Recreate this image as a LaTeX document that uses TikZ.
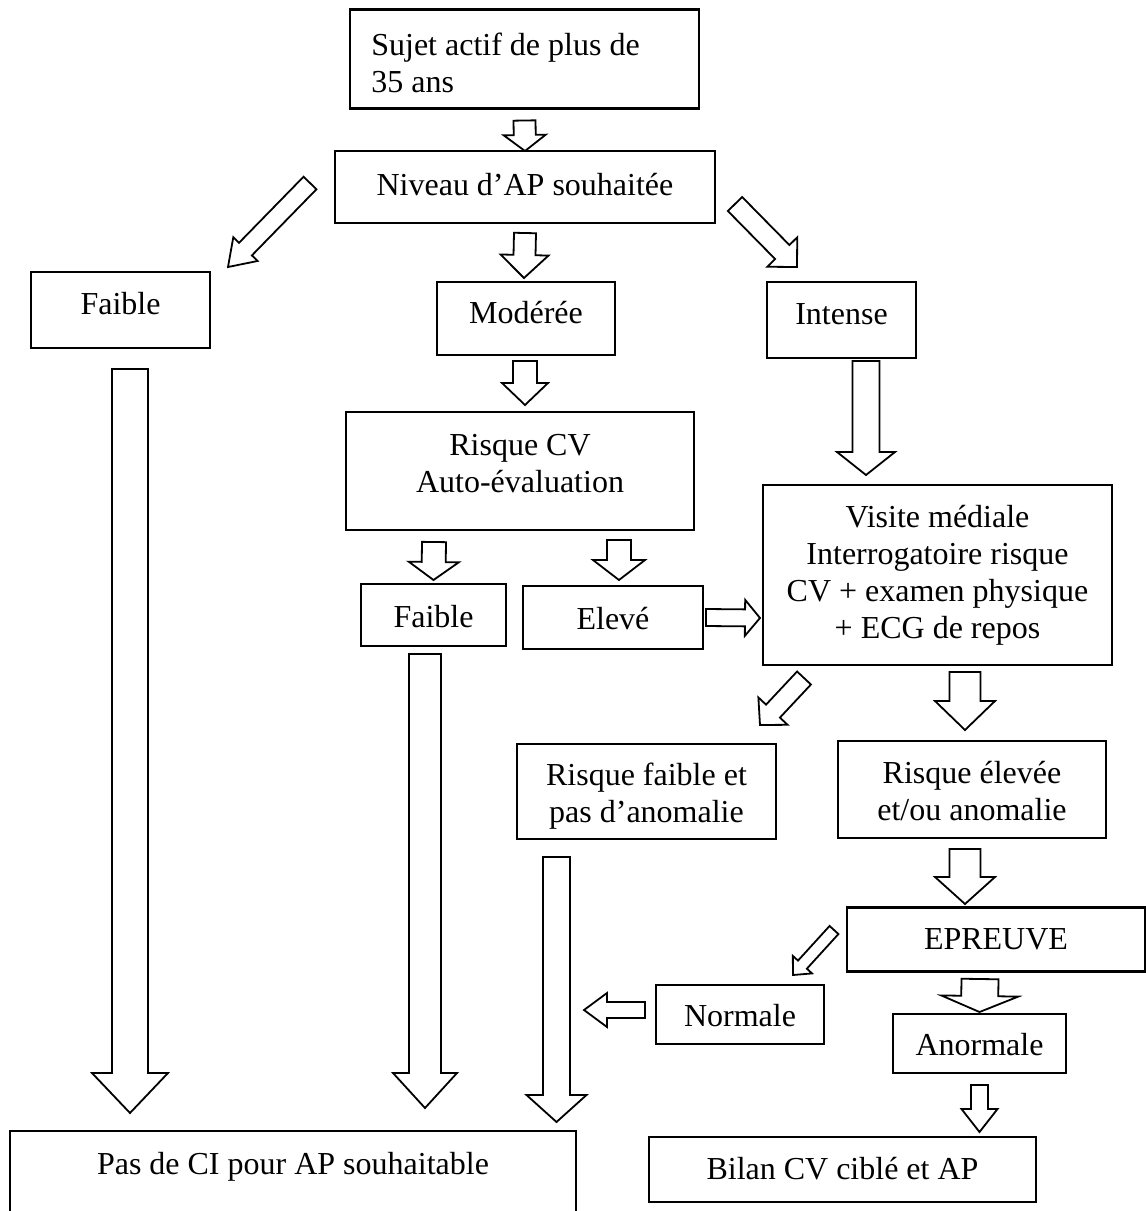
\documentclass[tikz,border=0pt]{standalone}
\usepackage{fontspec}
\setmainfont{Liberation Serif}
\usetikzlibrary{calc}
\tikzstyle{box} = [draw=black, outer sep=0, inner sep=0, line width=2.2pt,
    font=\fontsize{32}{37}\selectfont, text height=22pt, text depth=0pt, align=center]
\tikzstyle{fat} = [draw=black, fill=white, line width=1.8pt, line join=miter]

% block arrow: from, to, half shaft, half head, head length
\newcommand{\fatarrow}[5]{%
  \path (#1) coordinate (fa-s) (#2) coordinate (fa-e);
  \coordinate (fa-h) at ($(fa-e)!#5pt!(fa-s)$);
  \draw[fat] ($(fa-s)!#3pt!90:(fa-e)$) -- ($(fa-h)!#3pt!90:(fa-e)$)
    -- ($(fa-h)!#4pt!90:(fa-e)$) -- (fa-e) -- ($(fa-h)!#4pt!-90:(fa-e)$)
    -- ($(fa-h)!#3pt!-90:(fa-e)$) -- ($(fa-s)!#3pt!-90:(fa-e)$) -- cycle;}

\begin{document}
\begin{tikzpicture}[x=1pt, y=-1pt]
\useasboundingbox (0,0) rectangle (1146,1211);

%%% top
\node[box, minimum width=349, minimum height=99, text height=28pt] (sujet) at (524.5,59) {\begin{tabular}{@{}l@{\hspace{38pt}}} Sujet actif de plus de \\ 35 ans \end{tabular}};
\node[box, minimum width=380, minimum height=72, text height=14pt] (niveau) at (525,187) {\begin{tabular}{c} Niveau d’AP souhaitée \end{tabular}};

%%% levels
\node[box, minimum width=179, minimum height=76, text height=6pt] (faibleA) at (120.5,310) {\begin{tabular}{c} Faible \end{tabular}};
\node[box, minimum width=178, minimum height=73, text height=7pt] (moderee) at (526,318.5) {\begin{tabular}{c} Modérée \end{tabular}};
\node[box, minimum width=149, minimum height=76, text height=6pt] (intense) at (841.5,320) {\begin{tabular}{c} Intense \end{tabular}};

\node[box, minimum width=348, minimum height=118, text height=3pt] (risque) at (520,471) {\begin{tabular}{c} Risque CV \\ Auto-évaluation \end{tabular}};
\node[box, minimum width=145, minimum height=62] (faibleB) at (433.5,615) {\begin{tabular}{c} Faible \end{tabular}};
\node[box, minimum width=180, minimum height=63] (eleve) at (613,617.5) {\begin{tabular}{c} Elevé \end{tabular}};
\node[box, minimum width=349, minimum height=180, text height=14pt] (visite) at (937.5,575) {\begin{tabular}{c} Visite médiale \\ Interrogatoire risque \\ CV + examen physique \\ + ECG de repos \end{tabular}};

%%% after visit
\node[box, minimum width=259, minimum height=95] (rfaible) at (646.5,791.5) {\begin{tabular}{c} Risque faible et \\ pas d’anomalie \end{tabular}};
\node[box, minimum width=268, minimum height=97] (relevee) at (972,789.5) {\begin{tabular}{c} Risque élevée \\ et/ou anomalie \end{tabular}};
\node[box, minimum width=298, minimum height=64, text height=18pt] (epreuve) at (996,939.5) {\begin{tabular}{c} EPREUVE \end{tabular}};
\node[box, minimum width=168, minimum height=59] (normale) at (740,1014.5) {\begin{tabular}{c} Normale \end{tabular}};
\node[box, minimum width=173, minimum height=59] (anormale) at (979.5,1043.5) {\begin{tabular}{c} Anormale \end{tabular}};

%%% results
\node[box, minimum width=566, minimum height=94, text height=0pt, text depth=10pt] (pasci) at (293,1178) {\begin{tabular}{c} Pas de CI pour AP souhaitable \end{tabular}};
\node[box, minimum width=387, minimum height=65, text height=17pt] (bilan) at (842.5,1169.5) {\begin{tabular}{c} Bilan CV ciblé et AP \end{tabular}};

%%% arrows
\fatarrow{$(sujet.south)+(0,12)$}{niveau.north}{11}{21}{16}
\fatarrow{$(niveau.west)+(-25,-4)$}{$(faibleA.north east)+(18,-5)$}{9}{17}{25}
\fatarrow{$(niveau.south)+(0,10)$}{$(moderee.north)+(-2,-4)$}{11}{24}{23}
\fatarrow{$(niveau.south east)+(20,-19)$}{$(intense.north west)+(30,-15)$}{10}{21}{21}
\fatarrow{$(moderee.south)+(-1,6)$}{$(risque.north)+(5,-7)$}{12}{23}{22}
\fatarrow{$(intense.south)+(24.5,3)$}{$(visite.north west)+(103,-10)$}{13.5}{29}{23}
\fatarrow{$(risque.south)+(-86,12)$}{$(faibleB.north)+(0,-4)$}{12}{25}{18}
\fatarrow{$(risque.south)+(99,10)$}{$(eleve.north)+(6,-6)$}{12}{26}{20}
\fatarrow{$(eleve.east)+(3,0)$}{$(visite.west)+(-3,43)$}{8.5}{18}{15}

\fatarrow{$(faibleA.south)+(9.5,21)$}{$(pasci.north west)+(120,-18)$}{18}{38}{40}
\fatarrow{$(faibleB.south)+(-8.5,8)$}{$(pasci.north west)+(415,-23)$}{16}{32}{35}
\fatarrow{$(rfaible.south)+(-90,18)$}{$(pasci.north east)+(-19.5,-9)$}{13.5}{30}{27}

\fatarrow{$(visite.south west)+(41,13)$}{$(rfaible.north east)+(-16,-19)$}{9.5}{20}{19}
\fatarrow{$(visite.south)+(27.5,7)$}{$(relevee.north)+(-7,-11)$}{15.5}{30}{29}
\fatarrow{$(relevee.south)+(-7,11)$}{$(epreuve.north)+(-31,-3.5)$}{15.5}{30}{27}
\fatarrow{$(epreuve.west)+(-13,-9.5)$}{$(normale.north east)+(-31,-10)$}{6}{13}{14}
\fatarrow{$(normale.west)+(-11,-4.5)$}{$(normale.west)+(-72,-4.5)$}{8}{17}{23}
\fatarrow{$(epreuve.south)+(-16,7.5)$}{$(anormale.north)+(0,-2)$}{18.5}{38.5}{16}
\fatarrow{$(anormale.south)+(0,12)$}{$(bilan.north east)+(-56.5,-5)$}{8.5}{18}{23}

\end{tikzpicture}
\end{document}
